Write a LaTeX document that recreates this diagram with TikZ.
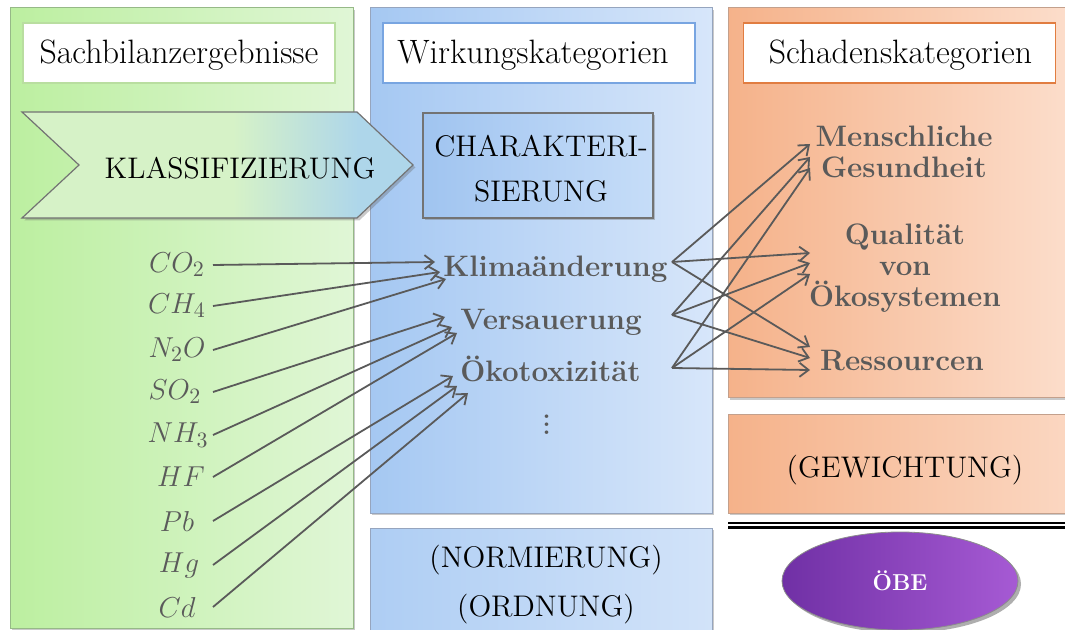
\documentclass[tikz,border=0pt]{standalone}
\usepackage{fontspec}
\usetikzlibrary{arrows.meta,shadows,calc,shapes.geometric}

% colour palette
\definecolor{txtgray}{RGB}{90,90,90}
\definecolor{grnL}{RGB}{188,239,160}
\definecolor{grnR}{RGB}{224,246,214}
\definecolor{grnB}{RGB}{150,185,135}
\definecolor{grnT}{RGB}{185,222,160}
\definecolor{bluL}{RGB}{165,200,242}
\definecolor{bluR}{RGB}{215,230,250}
\definecolor{bluB}{RGB}{150,165,190}
\definecolor{bluT}{RGB}{120,165,225}
\definecolor{orgL}{RGB}{245,178,138}
\definecolor{orgR}{RGB}{252,222,204}
\definecolor{orgB}{RGB}{195,160,140}
\definecolor{orgT}{RGB}{225,125,65}
\definecolor{chvL}{RGB}{214,242,199}
\definecolor{chvR}{RGB}{174,214,234}
\definecolor{chrL}{RGB}{160,196,240}
\definecolor{chrR}{RGB}{198,221,248}
\definecolor{purL}{RGB}{112,48,165}
\definecolor{purR}{RGB}{166,90,212}

% chevron shading: green for most of its length, turning blue near the tip
\pgfdeclarehorizontalshading{chevshade}{100bp}{color(0bp)=(chvL); color(52bp)=(chvL); color(68bp)=(chvR); color(100bp)=(chvR)}

\tikzset{
  colshadow/.style={drop shadow={shadow xshift=1.2pt,shadow yshift=-1.2pt,opacity=0.35,fill=black!60}},
  titlebox/.style={fill=white,line width=0.6pt,minimum width=156pt,minimum height=30pt,inner sep=0pt},
  titletext/.style={font=\fontsize{16.9}{19}\selectfont,inner sep=0pt},
  capstext/.style={font=\fontsize{14.9}{17}\selectfont,inner sep=0pt},
  chem/.style={text=txtgray,inner sep=0pt,font=\fontsize{15.8}{18}\selectfont},
  impact/.style={text=txtgray,inner sep=0pt,font=\fontsize{14.8}{16}\selectfont\bfseries},
  damage/.style={text=txtgray,inner sep=0pt,align=center,font=\fontsize{14.8}{15.5}\selectfont\bfseries},
  flow/.style={draw=txtgray,line width=0.9pt,-{Straight Barb[length=4.5pt,width=7pt,line width=0.9pt]}},
}

\begin{document}
\begin{tikzpicture}[x=0.5pt,y=-0.5pt]
\useasboundingbox (0,0) rectangle (1065,630);

% ---- column backgrounds ----
\fill[white] (0,0) rectangle (1065,630);
\draw[grnB,line width=0.5pt,left color=grnL,right color=grnR,colshadow] (10,8) rectangle (353,628);
\draw[bluB,line width=0.5pt,left color=bluL,right color=bluR,colshadow] (370,8) rectangle (712,513);
\draw[bluB,line width=0.5pt,left color=bluL!90!white,right color=bluR!90!bluL,colshadow] (370,528) rectangle (712,640);
\draw[orgB,line width=0.5pt,left color=orgL,right color=orgR,colshadow] (728,8) rectangle (1075,398);
\draw[orgB,line width=0.5pt,left color=orgL,right color=orgR!85!orgL,colshadow] (728,415) rectangle (1075,513);

% ---- column titles ----
\node[titlebox,draw=grnT] (tsach) at (179,53) {};
\node[titlebox,draw=bluT] (twirk) at (539,53) {};
\node[titlebox,draw=orgT] (tscha) at (899.5,53) {};
\node[titletext] (tsachtxt) at ($(tsach.center)+(0,2)$) {Sachbilanzergebnisse};
\node[titletext] (twirktxt) at ($(twirk.center)+(-6,2)$) {Wirkungskategorien};
\node[titletext] (tschatxt) at ($(tscha.center)+(1,2)$) {Schadenskategorien};

% ---- classification chevron and characterisation box ----
\path[draw=black!55,line width=0.6pt,shading=chevshade,colshadow]
  (22,112) -- (357,112) -- (413,165) -- (357,218) -- (22,218) -- (79,165) -- cycle;
\node[capstext] (klass) at (240,168) {KLASSIFIZIERUNG};

\node[draw=black!55,line width=0.6pt,left color=chrL,right color=chrR,colshadow,
  minimum width=115pt,minimum height=52.5pt,inner sep=0pt] (chark) at (538,165.5) {};
\node[capstext,align=center,font=\fontsize{14.9}{22.5}\selectfont] (charktxt) at ($(chark.center)+(3,3)$) {CHARAKTERI-\\SIERUNG};

% ---- inventory results ----
\node[chem] (co2) at (177,265) {$CO_2$};
\node[chem] (ch4) at (177,306) {$CH_4$};
\node[chem] (n2o) at (177,350) {$N_2O$};
\node[chem] (so2) at (175,392) {$SO_2$};
\node[chem] (nh3) at (178,435) {$NH_3$};
\node[chem] (hf)  at (181,477) {$HF$};
\node[chem] (pb)  at (177,521) {$Pb$};
\node[chem] (hg)  at (179,565) {$Hg$};
\node[chem] (cd)  at (177,607) {$Cd$};
\coordinate (lstart) at (213,0);

% ---- impact categories ----
\node[impact,anchor=west] (klima) at (443,269) {Klimaänderung};
\node[impact,anchor=west] (vers)  at (460,322) {Versauerung};
\node[impact,anchor=west] (oeko)  at (460,369) {Ökotoxizität};
\node[text=txtgray,inner sep=0pt,font=\fontsize{22}{24}\selectfont] (dots) at (547,419) {$\vdots$};
\coordinate (rstart) at (672,0);

% ---- damage categories ----
\node[damage] (mensch) at (904,152) {Menschliche\\Gesundheit};
\node[damage] (qual)   at (905,268) {Qualität\\von\\Ökosystemen};
\node[damage] (ress)   at (902,361) {Ressourcen};
\coordinate (rend) at (810,0);

% ---- classification arrows ----
\draw[flow] (co2 -| lstart) -- ($(klima.west)+(-8,-7)$);
\draw[flow] (ch4 -| lstart) -- ($(klima.west)+(-3,3)$);
\draw[flow] (n2o -| lstart) -- ($(klima.west)+(3,10)$);
\draw[flow] (so2 -| lstart) -- ($(vers.west)+(-15,-5)$);
\draw[flow] (nh3 -| lstart) -- ($(vers.west)+(-8,5)$);
\draw[flow] (hf -| lstart)  -- ($(vers.west)+(-3,11)$);
\draw[flow] (pb -| lstart)  -- ($(oeko.west)+(-7,7)$);
\draw[flow] (hg -| lstart)  -- ($(oeko.west)+(-3,17)$);
\draw[flow] (cd -| lstart)  -- ($(oeko.west)+(8,24)$);

% ---- characterisation arrows ----
\coordinate (kout) at ($(klima -| rstart)+(0,-7)$);
\coordinate (vout) at ($(vers -| rstart)+(0,-7)$);
\coordinate (oout) at ($(oeko -| rstart)+(0,-1)$);
\draw[flow] (kout) -- ($(mensch -| rend)+(0,-8)$);
\draw[flow] (kout) -- ($(qual -| rend)+(0,-15)$);
\draw[flow] (kout) -- ($(ress -| rend)+(0,-14)$);
\draw[flow] (vout) -- ($(mensch -| rend)+(0,5)$);
\draw[flow] (vout) -- ($(qual -| rend)+(0,-5)$);
\draw[flow] (vout) -- ($(ress -| rend)+(0,-3)$);
\draw[flow] (oout) -- ($(mensch -| rend)+(0,16)$);
\draw[flow] (oout) -- ($(qual -| rend)+(0,6)$);
\draw[flow] (oout) -- ($(ress -| rend)+(0,9)$);

% ---- optional steps ----
\node[capstext,align=center,font=\fontsize{14.9}{24.5}\selectfont] (norm) at (546,585) {(NORMIERUNG)\\(ORDNUNG)};
\node[capstext] (gew) at (905,470) {(GEWICHTUNG)};

% ---- separator and eco-points ----
\draw[line width=1.1pt] (728,523) -- (1075,523);
\draw[line width=1.1pt] (728,527.5) -- (1075,527.5);
\node[ellipse,draw=black!45,line width=0.4pt,left color=purL,right color=purR,
  drop shadow={shadow xshift=1.5pt,shadow yshift=-1.5pt,opacity=0.45,fill=black!70},
  minimum width=118pt,minimum height=49pt,inner sep=0pt,text=white,
  font=\fontsize{11.5}{13}\selectfont\bfseries] (oebe) at (900,581) {ÖBE};
\end{tikzpicture}
\end{document}
